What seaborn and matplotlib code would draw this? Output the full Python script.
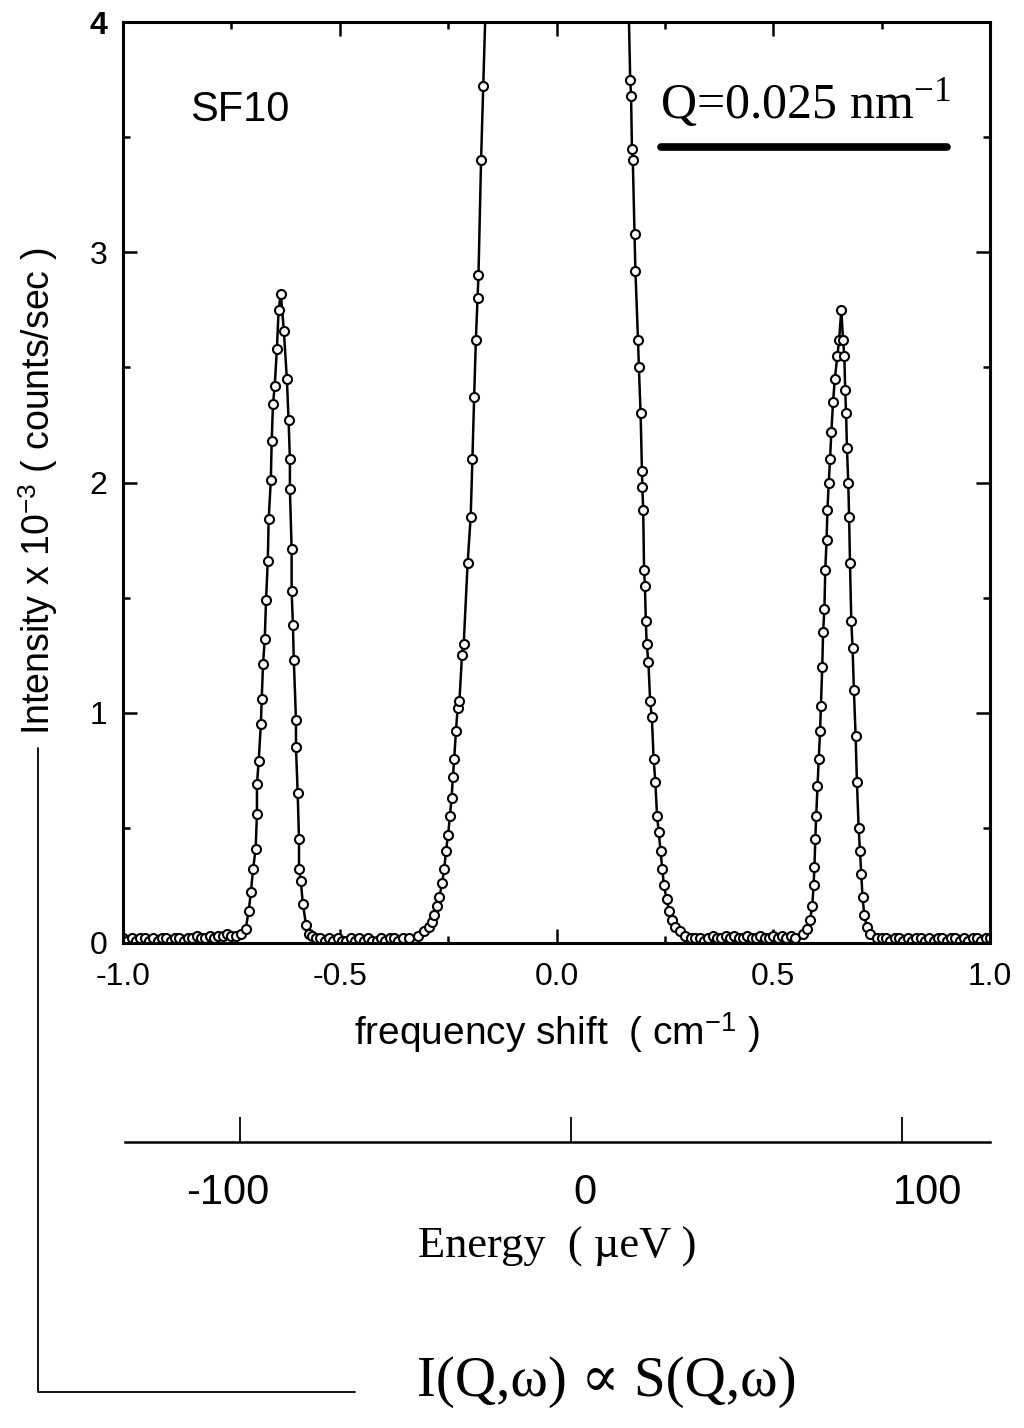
import numpy as np
import pandas as pd
import matplotlib
matplotlib.use("Agg")
import matplotlib.pyplot as plt
import seaborn as sns
from matplotlib.lines import Line2D
from matplotlib.ticker import MultipleLocator
from matplotlib.transforms import ScaledTranslation

sns.set_theme(style="ticks")
plt.rcParams['font.family'] = ['Liberation Sans', 'DejaVu Sans']
plt.rcParams['mathtext.fontset'] = 'custom'
plt.rcParams['mathtext.rm'] = 'Liberation Serif'
plt.rcParams['mathtext.sf'] = 'Liberation Sans'
plt.rcParams['mathtext.it'] = 'Liberation Serif:italic'
plt.rcParams['axes.unicode_minus'] = False

# ---------------- data (frequency shift in cm^-1, intensity x 10^-3 counts/sec) -------------
base_left_x = [-1.000, -0.990, -0.980, -0.970, -0.960, -0.950, -0.940, -0.930, -0.920, -0.910,
               -0.900, -0.890, -0.880, -0.870, -0.860, -0.850, -0.840, -0.830, -0.820, -0.810,
               -0.800, -0.790, -0.780, -0.770, -0.760, -0.750]
base_left_y = [0.02, 0.01, 0.02, 0.01, 0.02, 0.02, 0.01, 0.02, 0.01, 0.02,
               0.02, 0.01, 0.02, 0.02, 0.01, 0.02, 0.02, 0.03, 0.02, 0.02,
               0.03, 0.02, 0.03, 0.03, 0.04, 0.03]

peak1_x = [-0.740, -0.728, -0.717, -0.710, -0.705, -0.700, -0.694, -0.691, -0.691, -0.687,
           -0.682, -0.680, -0.677, -0.673, -0.670, -0.666, -0.664, -0.659, -0.657, -0.654,
           -0.650, -0.645, -0.641, -0.636,
           -0.629, -0.622, -0.618, -0.615, -0.615, -0.611, -0.611, -0.608, -0.606, -0.601,
           -0.601, -0.597, -0.594, -0.594, -0.590, -0.585, -0.578, -0.572]
peak1_y = [0.03, 0.04, 0.06, 0.14, 0.22, 0.32, 0.41, 0.56, 0.69, 0.79,
           0.95, 1.06, 1.21, 1.32, 1.49, 1.66, 1.84, 2.01, 2.18, 2.34,
           2.42, 2.58, 2.75, 2.82,
           2.66, 2.45, 2.27, 2.10, 1.97, 1.71, 1.53, 1.38, 1.23, 0.97,
           0.85, 0.65, 0.45, 0.32, 0.27, 0.17, 0.08, 0.04]

base_mid1_x = [-0.565, -0.555, -0.545, -0.535, -0.525, -0.515, -0.505, -0.495, -0.485, -0.475,
               -0.465, -0.455, -0.445, -0.435, -0.425, -0.415, -0.405, -0.395, -0.385, -0.375,
               -0.365, -0.355]
base_mid1_y = [0.03, 0.02, 0.02, 0.01, 0.02, 0.01, 0.02, 0.01, 0.01, 0.02,
               0.01, 0.02, 0.01, 0.02, 0.01, 0.01, 0.02, 0.01, 0.02, 0.02,
               0.01, 0.02]

central_x = [-0.340, -0.320, -0.305, -0.295, -0.288, -0.282, -0.276, -0.270, -0.264, -0.259,
             -0.255, -0.250, -0.246, -0.242, -0.239, -0.236, -0.232, -0.228, -0.224, -0.218,
             -0.214, -0.205, -0.198, -0.194, -0.190, -0.186, -0.182, -0.180, -0.174, -0.169,
             -0.160, -0.150, 0.000, 0.150,
             0.165, 0.170, 0.172, 0.174, 0.176, 0.180, 0.182, 0.188, 0.190, 0.194,
             0.197, 0.198, 0.200, 0.202, 0.204, 0.206, 0.208, 0.212, 0.216, 0.220,
             0.224, 0.228, 0.232, 0.236, 0.240, 0.244, 0.248, 0.254, 0.260, 0.266,
             0.274, 0.284, 0.296, 0.310]
central_y = [0.02, 0.03, 0.05, 0.07, 0.09, 0.12, 0.16, 0.20, 0.26, 0.32,
             0.40, 0.47, 0.55, 0.63, 0.72, 0.80, 0.92, 1.02, 1.05, 1.25,
             1.30, 1.65, 1.85, 2.10, 2.37, 2.62, 2.80, 2.90, 3.40, 3.72,
             4.30, 5.50, 12.00, 5.50,
             4.20, 3.75, 3.68, 3.45, 3.40, 3.08, 2.92, 2.62, 2.50, 2.30,
             2.05, 1.98, 1.88, 1.62, 1.55, 1.40, 1.30, 1.22, 1.05, 0.98,
             0.80, 0.70, 0.55, 0.48, 0.40, 0.32, 0.25, 0.19, 0.14, 0.10,
             0.07, 0.05, 0.03, 0.02]

base_mid2_x = [0.320, 0.330, 0.340, 0.350, 0.360, 0.370, 0.380, 0.390, 0.400, 0.410,
               0.420, 0.430, 0.440, 0.450, 0.460, 0.470, 0.480, 0.490, 0.500, 0.510,
               0.520, 0.530, 0.540]
base_mid2_y = [0.02, 0.02, 0.01, 0.02, 0.03, 0.02, 0.02, 0.03, 0.02, 0.03,
               0.02, 0.02, 0.03, 0.02, 0.02, 0.03, 0.02, 0.02, 0.03, 0.02,
               0.03, 0.02, 0.03]

peak2_x = [0.550, 0.568, 0.578, 0.585, 0.590, 0.593, 0.595, 0.597, 0.599, 0.602,
           0.605, 0.608, 0.610, 0.613, 0.615, 0.618, 0.620, 0.623, 0.625, 0.628,
           0.631, 0.634, 0.638, 0.642, 0.648, 0.652, 0.657,
           0.661, 0.664, 0.666, 0.668, 0.670, 0.673, 0.675, 0.677, 0.680, 0.683,
           0.686, 0.690, 0.693, 0.697, 0.700, 0.703, 0.706, 0.710, 0.716, 0.724, 0.740]
peak2_y = [0.02, 0.04, 0.06, 0.10, 0.16, 0.25, 0.33, 0.45, 0.55, 0.68,
           0.80, 0.92, 1.03, 1.20, 1.35, 1.45, 1.62, 1.75, 1.88, 2.00,
           2.10, 2.22, 2.35, 2.45, 2.55, 2.62, 2.75,
           2.62, 2.55, 2.40, 2.30, 2.15, 2.00, 1.85, 1.65, 1.40, 1.28,
           1.10, 0.90, 0.70, 0.50, 0.40, 0.30, 0.20, 0.12, 0.07, 0.04, 0.02]

base_right_x = [0.750, 0.760, 0.770, 0.780, 0.790, 0.800, 0.810, 0.820, 0.830, 0.840,
                0.850, 0.860, 0.870, 0.880, 0.890, 0.900, 0.910, 0.920, 0.930, 0.940,
                0.950, 0.960, 0.970, 0.980, 0.990, 1.000]
base_right_y = [0.02, 0.02, 0.01, 0.02, 0.02, 0.01, 0.02, 0.01, 0.02, 0.02,
                0.01, 0.02, 0.01, 0.02, 0.02, 0.01, 0.02, 0.02, 0.01, 0.02,
                0.01, 0.02, 0.02, 0.01, 0.02, 0.02]

x_ticks = [-1.0, -0.5, 0.0, 0.5, 1.0]
x_ticklabels = ['-1.0', '-0.5', '0.0', '0.5', '1.0']
y_ticks = [0, 1, 2, 3, 4]
y_ticklabels = ['0', '1', '2', '3', '4']
energy_ticks = [-100, 0, 100]
energy_ticklabels = ['-100', '0', '100']

shift = (base_left_x + peak1_x + base_mid1_x + central_x + base_mid2_x + peak2_x + base_right_x)
intensity = (base_left_y + peak1_y + base_mid1_y + central_y + base_mid2_y + peak2_y + base_right_y)
df = pd.DataFrame({'shift': shift, 'intensity': intensity})

# ---------------- figure ----------------
W, H = 1024, 1428
fig = plt.figure(figsize=(W / 100, H / 100), dpi=100)
fig.patch.set_facecolor('white')

L, R, T, B = 123, 990, 22, 943
ax = fig.add_axes([L / W, 1 - B / H, (R - L) / W, (B - T) / H])
sns.lineplot(data=df, x='shift', y='intensity', estimator=None, sort=False, ax=ax,
             color='black', linewidth=1.8, marker='o', markersize=6.5,
             markerfacecolor='white', markeredgecolor='black', markeredgewidth=1.5)
ax.set_xlim(-1.0, 1.0)
ax.set_ylim(0, 4)
ax.set_facecolor('white')
for s in ax.spines.values():
    s.set_linewidth(2.2)
    s.set_color('black')
ax.set_xticks(x_ticks)
ax.set_xticklabels(x_ticklabels)
ax.set_yticks(y_ticks)
ax.set_yticklabels(y_ticklabels)
ax.xaxis.set_minor_locator(MultipleLocator(0.25))
ax.yaxis.set_minor_locator(MultipleLocator(0.5))
ax.tick_params(which='both', direction='in', top=True, right=True, colors='black', width=1.8)
ax.tick_params(which='major', length=10, labelsize=23)
ax.tick_params(axis='x', which='major', pad=14)
ax.tick_params(axis='y', which='major', pad=11)
ax.tick_params(which='minor', length=5)
ax.get_yticklabels()[-1].set_fontweight('bold')

ax.set_xlabel('frequency shift  ( cm$^{\\mathsf{-1}}$ )', fontsize=28, labelpad=13, color='black')
ax.set_ylabel('Intensity x 10$^{\\mathsf{-3}}$ ( counts/sec )', fontsize=27, color='black')
ax.yaxis.set_label_coords(-0.073, 0.49)

ax.text(0.135, 0.904, 'SF10', transform=ax.transAxes, ha='center', va='center',
        fontsize=30, color='black')
ax.text(0.787, 0.912, 'Q=0.025 nm$^{\\mathrm{-1}}$', transform=ax.transAxes, ha='center', va='center',
        fontsize=36, family=['Liberation Serif', 'DejaVu Serif'], color='black')
ax.plot([0.621, 0.950], [0.864, 0.864], transform=ax.transAxes, color='black', lw=5.5,
        solid_capstyle='round')

# ---------------- energy axis ----------------
EL, ER, EY = 125, 990, 1142
ax2 = fig.add_axes([EL / W, 1 - EY / H, (ER - EL) / W, 0.0005])
ax2.patch.set_visible(False)
for side in ['left', 'right', 'top']:
    ax2.spines[side].set_visible(False)
ax2.spines['bottom'].set_linewidth(1.8)
ax2.spines['bottom'].set_color('black')
ax2.set_yticks([])
ax2.set_xlim(-134.7, 126.6)
ax2.set_xticks(energy_ticks)
ax2.set_xticklabels(energy_ticklabels)
ax2.tick_params(axis='x', direction='in', length=18, width=1.3, labelsize=30, pad=22, colors='black')
ax2.set_xlabel('Energy  ( \u00b5eV )', fontsize=32, family=['Liberation Serif', 'DejaVu Serif'],
               labelpad=10, color='black')
energy_label_offsets_px = [-12, 14, 26]
for lab, dx in zip(ax2.get_xticklabels(), energy_label_offsets_px):
    lab.set_transform(lab.get_transform() + ScaledTranslation(dx / 100, 0, fig.dpi_scale_trans))

# ---------------- bracket & formula ----------------
fig.add_artist(Line2D([38 / W, 38 / W, 355 / W], [1 - 748 / H, 1 - 1392 / H, 1 - 1392 / H],
                      transform=fig.transFigure, color='black', lw=1.3))
fig.text(607 / W, 1 - 1382 / H, 'I(Q,\u03c9) \u221d S(Q,\u03c9)', ha='center', va='center',
         fontsize=41, family=['Liberation Serif', 'DejaVu Serif'], color='black')

fig.savefig('out.png', dpi=100, facecolor='white')
